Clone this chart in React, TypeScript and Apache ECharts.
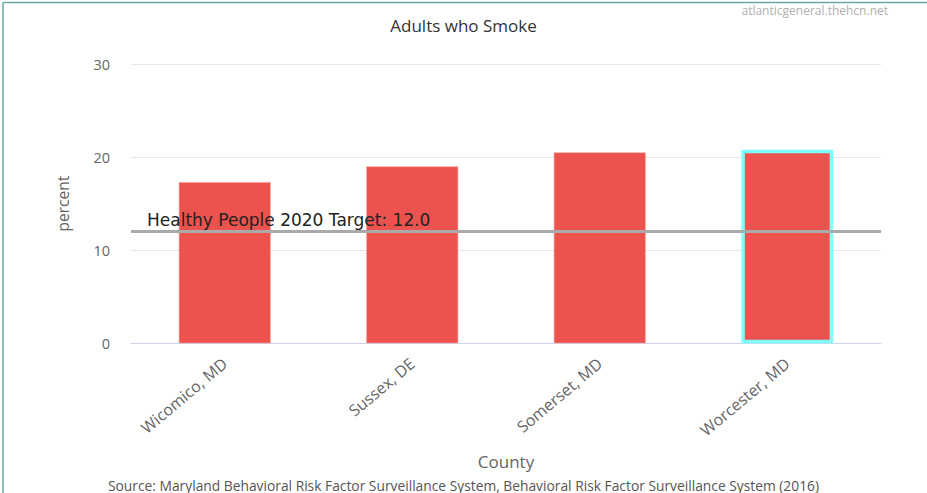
import React, { useEffect, useRef } from "react";
import * as echarts from "echarts";

const categories = ["Wicomico, MD", "Sussex, DE", "Somerset, MD", "Worcester, MD"];
const values = [17.3, 19.0, 20.5, 20.8];
const targetValue = 12.0;
const targetLabel = "Healthy People 2020 Target: 12.0";
const titleText = "Adults who Smoke";
const sourceText =
  "Source: Maryland Behavioral Risk Factor Surveillance System, Behavioral Risk Factor Surveillance System (2016)";
const watermark = "atlanticgeneral.thehcn.net";
const highlightIndex = 3;

export default function App() {
  const ref = useRef<HTMLDivElement>(null);
  useEffect(() => {
    if (!ref.current) return;
    const chart = echarts.init(ref.current, null, { renderer: "svg" });
    const font = "'Open Sans', sans-serif";
    chart.setOption({
      animation: false,
      backgroundColor: "#ffffff",
      title: {
        text: titleText,
        left: "center",
        top: 12,
        textStyle: { fontFamily: font, fontSize: 17, fontWeight: "normal", color: "#333333" },
      },
      grid: { left: 131, right: 46, top: 64, bottom: 149.7, containLabel: false },
      xAxis: [
        {
          type: "category",
          data: categories,
          name: "County",
          nameLocation: "middle",
          nameGap: 110,
          nameTextStyle: { fontFamily: font, fontSize: 17, color: "#666666" },
          axisLine: { lineStyle: { color: "#ccd6eb", width: 1 } },
          axisTick: { show: false },
          axisLabel: { rotate: 40, fontFamily: font, fontSize: 16, color: "#666666", margin: 18 },
        },
        { type: "value", min: 0, max: 1, show: false },
      ],
      yAxis: {
        type: "value",
        min: 0,
        max: 30,
        interval: 10,
        name: "percent",
        nameLocation: "middle",
        nameGap: 60,
        nameTextStyle: { fontFamily: font, fontSize: 15.5, color: "#666666" },
        axisLine: { show: false },
        axisTick: { show: false },
        axisLabel: { fontFamily: font, fontSize: 14.5, color: "#666666", margin: 21 },
        splitLine: { lineStyle: { color: "#e6e6e6", width: 1 } },
      },
      series: [
        {
          type: "bar",
          data: values.map((v, i) =>
            i === highlightIndex
              ? { value: v, itemStyle: { borderColor: "#80ffff", borderWidth: 3.5 } }
              : v
          ),
          barWidth: "49%",
          itemStyle: { color: "#ec524e", borderColor: "#f59a97", borderWidth: 0.6 },
        },
        {
          type: "line",
          xAxisIndex: 1,
          yAxisIndex: 0,
          data: [
            [0, targetValue],
            [1, targetValue],
          ],
          symbol: "none",
          silent: true,
          lineStyle: { color: "#aaaaaa", width: 3, type: "solid" },
          z: 5,
          markLine: {
            silent: true,
            symbol: ["none", "none"],
            data: [[{ coord: [0, targetValue] }, { coord: [1, targetValue] }]],
            lineStyle: { color: "rgba(0,0,0,0)", width: 1, type: "solid" },
            label: {
              show: true,
              position: "insideStartTop",
              formatter: targetLabel,
              fontFamily: "'DejaVu Sans', sans-serif",
              fontSize: 17,
              color: "#222222",
              distance: [16, 3],
            },
          },
        },
      ],
      graphic: [
        {
          type: "line",
          shape: { x1: 3, y1: 2.5, x2: 927, y2: 2.5 },
          style: { stroke: "#6aa8a8", lineWidth: 1.5 },
        },
        {
          type: "line",
          shape: { x1: 3, y1: 2.5, x2: 3, y2: 493 },
          style: { stroke: "#6aa8a8", lineWidth: 1.5 },
        },
        {
          type: "text",
          right: 39,
          top: 4,
          style: { text: watermark, fontFamily: font, fontSize: 12, fill: "#b0b0b0" },
        },
        {
          type: "text",
          left: "center",
          top: 478,
          style: { text: sourceText, fontFamily: font, fontSize: 13.8, fill: "#555555" },
        },
      ],
    });
    return () => chart.dispose();
  }, []);
  return (
    <div
      ref={ref}
      style={{ position: "fixed", left: 0, top: 0, width: 927, height: 493 }}
    />
  );
}
